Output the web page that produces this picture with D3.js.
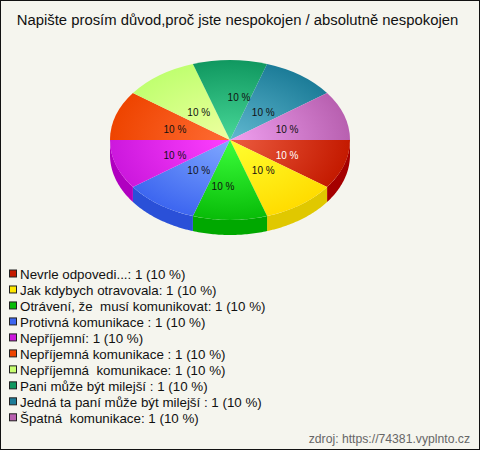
<!DOCTYPE html>
<html><head><meta charset="utf-8">
<script src="https://cdn.jsdelivr.net/npm/d3@7"></script>
<style>html,body{margin:0;padding:0;background:#f5f5ee}svg{display:block}text{font-family:"Liberation Sans",Arial,sans-serif;white-space:pre}</style>
</head><body><script>
const chartTitle = "Napište prosím důvod,proč jste nespokojen / absolutně nespokojen";
const sourceText = "zdroj: https://74381.vyplnto.cz";
const categories = ["Nevrle odpovedi...:","Jak kdybych otravovala:","Otrávení, že  musí komunikovat:","Protivná komunikace :","Nepříjemní:","Nepříjemná komunikace :","Nepříjemná  komunikace:","Pani může být milejší :","Jedná ta paní může být milejší :","Špatná  komunikace:"];
const counts = [1,1,1,1,1,1,1,1,1,1];
const percents = [10,10,10,10,10,10,10,10,10,10];
const innerColors = ["#ec5c40","#ffff30","#3cff3c","#80a8ff","#ff40ff","#ff6c34","#eeffa0","#48d898","#60b8d0","#f0a0f0"];
const rimColors = ["#c41a00","#ffdc00","#08bc08","#3d66f0","#cc18dd","#ee4400","#c0ff70","#109860","#1c7c98","#b860b0"];
const sideColors = ["#a50000","#e0c800","#00a800","#2a50d8","#b000c0","#cc3800","#a0d860","#0c8050","#186880","#a04c98"];
const swatchColors = ["#c41a00","#ffe800","#08bc08","#3d66f0","#cc18dd","#ee4400","#c8ff70","#109860","#1c7c98","#b860b0"];
const labelColors = ["#ffffff","#111","#111","#111","#111","#111","#111","#111","#111","#111"];
const labelNudgeX = [0,-2,-7,4,2,2,4,9,-2,0];
const labelNudgeY = [2.6,-2,6.7,-2,2.6,1.4,5,-3,5,1.4];

const W=480,H=450,cx=230,cy=140,rx=120,ry=80,depth=15;
const svg=d3.select("body").append("svg").attr("width",W).attr("height",H);
svg.append("rect").attr("x",.5).attr("y",.5).attr("width",W-1).attr("height",H-1).attr("fill","#f5f5ee").attr("stroke","#111");
svg.append("text").attr("x",237.5).attr("y",25).attr("text-anchor","middle").attr("font-size",14.85).attr("fill","#111").text(chartTitle);

const pie=d3.pie().sort(null).startAngle(Math.PI/2).endAngle(Math.PI/2+2*Math.PI)(counts);
const sx=a=>cx+rx*Math.sin(a), sy=a=>cy-ry*Math.cos(a);
const defs=svg.append("defs");
pie.forEach((d,i)=>{
  const g=defs.append("radialGradient").attr("id","g"+i).attr("gradientUnits","userSpaceOnUse").attr("cx",0).attr("cy",0).attr("r",rx);
  g.append("stop").attr("offset","0%").attr("stop-color",innerColors[i]);
  g.append("stop").attr("offset","100%").attr("stop-color",rimColors[i]);
});
const side=d3.area().x(a=>sx(a)).y0(a=>sy(a)).y1(a=>sy(a)+depth);
pie.forEach((d,i)=>{
  const a0=Math.max(d.startAngle,Math.PI/2), a1=Math.min(d.endAngle,3*Math.PI/2);
  if(a1<=a0) return;
  svg.append("path").attr("d",side(d3.range(0,41).map(k=>a0+(a1-a0)*k/40))).attr("fill",sideColors[i]);
});
const arc=d3.arc().innerRadius(0).outerRadius(rx);
svg.append("g").attr("transform",`translate(${cx},${cy}) scale(1,${ry/rx})`)
  .selectAll("path").data(pie).join("path").attr("d",arc).attr("fill",(d,i)=>`url(#g${i})`);
const lblArc=d3.arc().innerRadius(60).outerRadius(60);
svg.append("g").selectAll("text").data(pie).join("text")
  .attr("x",(d,i)=>cx+lblArc.centroid(d)[0]+labelNudgeX[i])
  .attr("y",(d,i)=>cy+lblArc.centroid(d)[1]*ry/rx+labelNudgeY[i])
  .attr("dy",".36em").attr("text-anchor","middle").attr("font-size",10).attr("fill",(d,i)=>labelColors[i])
  .text((d,i)=>percents[i]+" %");
const rowY=d3.scalePoint().domain(d3.range(categories.length)).range([274.5,418.3]);
const lg=svg.append("g").selectAll("g").data(categories).join("g").attr("transform",(d,i)=>`translate(0,${rowY(i)})`);
lg.append("rect").attr("x",9.5).attr("y",-4.5).attr("width",7).attr("height",7).attr("fill",(d,i)=>swatchColors[i]).attr("stroke","#222");
lg.append("text").attr("x",20).attr("y",4.5).attr("font-size",13.35).attr("fill","#111").text((d,i)=>`${d} ${counts[i]} (${percents[i]} %)`);
svg.append("text").attr("x",470).attr("y",443).attr("text-anchor","end").attr("font-size",12.2).attr("fill","#666").text(sourceText);
</script></body></html>
